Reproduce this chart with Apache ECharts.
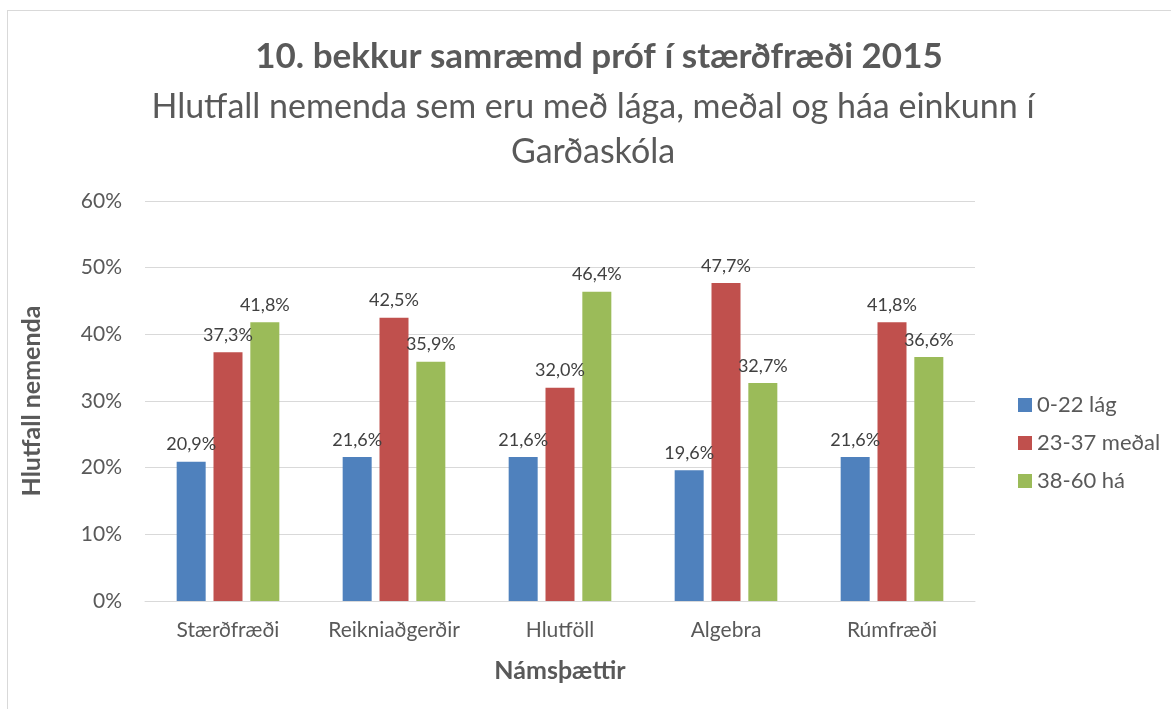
<!DOCTYPE html>
<html>
<head>
<meta charset="utf-8">
<script src="https://cdn.jsdelivr.net/npm/echarts@6/dist/echarts.min.js"></script>
<style>
  html, body { margin: 0; padding: 0; background: #fff; }
  #chart { width: 1171px; height: 709px; }
  #frame { position: absolute; left: 7px; top: 10px; width: 1180px; height: 720px; border: 1px solid #d9d9d9; box-sizing: border-box; pointer-events: none; }
</style>
</head>
<body>
<div id="chart"></div>
<div id="frame"></div>
<script>
// flokkar og gildi (%)
const categories = ['Stærðfræði', 'Reikniaðgerðir', 'Hlutföll', 'Algebra', 'Rúmfræði'];
const seriesNames = ['0-22 lág', '23-37 meðal', '38-60 há'];
const lowValues = [20.9, 21.6, 21.6, 19.6, 21.6];
const midValues = [37.3, 42.5, 32.0, 47.7, 41.8];
const highValues = [41.8, 35.9, 46.4, 32.7, 36.6];
const colors = ['#4f81bd', '#c0504d', '#9bbb59'];

const FONT = 'Lato, "Open Sans", sans-serif';

const chart = echarts.init(document.getElementById('chart'));

function fmt(v) {
  return v.toFixed(1).replace('.', ',') + '%';
}

function barSeries(name, data, color) {
  return {
    name: name,
    type: 'bar',
    data: data,
    barWidth: 29,
    barGap: '27%',
    itemStyle: { color: color },
    label: {
      show: true,
      position: 'top',
      distance: 8,
      fontFamily: FONT,
      fontSize: 18,
      color: '#404040',
      formatter: p => fmt(p.value)
    },
    labelLayout: { hideOverlap: false }
  };
}

chart.setOption({
  animation: false,
  title: [
    {
      text: '10. bekkur samræmd próf í stærðfræði 2015',
      left: 594, top: 34, textAlign: 'center',
      textStyle: { fontFamily: FONT, fontSize: 35, fontWeight: 'bold', color: '#595959' }
    },
    {
      text: 'Hlutfall nemenda sem eru með lága, meðal og háa einkunn í\nGarðaskóla',
      left: 588, top: 80, textAlign: 'center',
      textStyle: { fontFamily: FONT, fontSize: 34, fontWeight: 'normal', color: '#595959', lineHeight: 45 }
    }
  ],
  legend: {
    orient: 'vertical',
    left: 1013, top: 389,
    itemWidth: 14, itemHeight: 14, itemGap: 16,
    icon: 'rect',
    textStyle: { fontFamily: FONT, fontSize: 22, color: '#595959' },
    data: seriesNames
  },
  grid: { left: 145, right: 196, top: 201, bottom: 108 },
  xAxis: {
    type: 'category',
    data: categories,
    name: 'Námsþættir',
    nameLocation: 'middle',
    nameGap: 57,
    nameTextStyle: { fontFamily: FONT, fontSize: 25, fontWeight: 'bold', color: '#595959' },
    axisLine: { lineStyle: { color: '#d9d9d9', width: 1 } },
    axisTick: { show: false },
    axisLabel: { interval: 0, hideOverlap: false, fontFamily: FONT, fontSize: 21, color: '#595959', margin: 19 }
  },
  yAxis: {
    type: 'value',
    min: 0, max: 60, interval: 10,
    name: 'Hlutfall nemenda',
    nameLocation: 'middle',
    nameGap: 101,
    nameTextStyle: { fontFamily: FONT, fontSize: 25, fontWeight: 'bold', color: '#595959' },
    axisLine: { show: false },
    axisTick: { show: false },
    splitLine: { lineStyle: { color: '#d9d9d9', width: 1 } },
    axisLabel: { fontFamily: FONT, fontSize: 21, color: '#595959', margin: 23, formatter: '{value}%' }
  },
  series: [
    barSeries(seriesNames[0], lowValues, colors[0]),
    barSeries(seriesNames[1], midValues, colors[1]),
    barSeries(seriesNames[2], highValues, colors[2])
  ]
});
</script>
</body>
</html>
